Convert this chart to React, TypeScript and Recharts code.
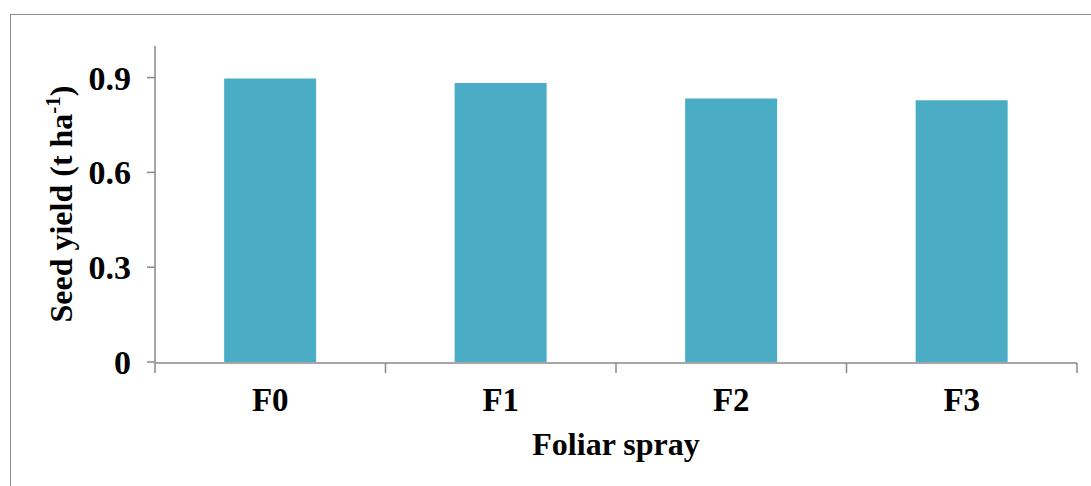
import { BarChart, Bar, XAxis, YAxis, Label } from "recharts";

const categories = ["F0", "F1", "F2", "F3"];
const seedYield = [0.897, 0.883, 0.834, 0.828];
const yTicks = [0, 0.3, 0.6, 0.9];
const boundaryTicks = [0, 1, 2, 3, 4];

const data = categories.map((name, i) => ({ name, pos: i + 0.5, value: seedYield[i] }));

const axisColor = "#888888";
const font = "'Liberation Serif', 'Times New Roman', serif";

function YTitle({ viewBox }: any) {
  const cy = viewBox.y + viewBox.height / 2;
  const x = 72;
  return (
    <text
      x={x}
      y={cy}
      transform={`rotate(-90, ${x}, ${cy})`}
      textAnchor="middle"
      fontFamily={font}
      fontWeight="bold"
      fontSize={32}
      fill="#000"
    >
      Seed yield (t ha
      <tspan fontSize={21} dy={-12}>-1</tspan>
      <tspan dy={12}>)</tspan>
    </text>
  );
}

export default function App() {
  return (
    <div style={{ position: "absolute", left: 0, top: 0, width: 1091, height: 486, background: "#fff", overflow: "hidden" }}>
      <div
        style={{
          position: "absolute",
          left: 10,
          top: 14,
          width: 1200,
          height: 600,
          borderTop: "1.5px solid #8c8c8c",
          borderLeft: "1.5px solid #8c8c8c",
        }}
      />
      <div style={{ position: "absolute", left: 0, top: 0 }}>
        <BarChart
          width={1091}
          height={486}
          data={data}
          margin={{ top: 46, right: 14, bottom: 122, left: 55 }}
          barCategoryGap="30%"
        >
          <XAxis
            xAxisId="edge"
            dataKey="pos"
            type="number"
            domain={[0, 4]}
            ticks={boundaryTicks}
            tick={() => <g />}
            tickSize={10}
            axisLine={{ stroke: axisColor, strokeWidth: 1.5 }}
            tickLine={{ stroke: axisColor, strokeWidth: 1.5 }}
            height={1}
          >
            <Label
              value="Foliar spray"
              content={({ viewBox }: any) => (
                <text
                  x={viewBox.x + viewBox.width / 2}
                  y={455}
                  textAnchor="middle"
                  fontFamily={font}
                  fontWeight="bold"
                  fontSize={32}
                  fill="#000"
                >
                  Foliar spray
                </text>
              )}
            />
          </XAxis>
          <XAxis
            dataKey="name"
            xAxisId="cat"
            axisLine={false}
            tickLine={false}
            tickSize={0}
            tickMargin={26}
            height={1}
            tick={{ fontFamily: font, fontWeight: "bold", fontSize: 33, fill: "#000" }}
          />
          <YAxis
            width={100}
            domain={[0, 1]}
            ticks={yTicks}
            tickFormatter={(v) => String(v)}
            tickSize={8}
            tickMargin={16}
            axisLine={{ stroke: axisColor, strokeWidth: 1.5 }}
            tickLine={{ stroke: axisColor, strokeWidth: 1.5 }}
            tick={{ fontFamily: font, fontWeight: "bold", fontSize: 34, fill: "#000" }}
          >
            <Label content={YTitle} />
          </YAxis>
          <Bar dataKey="value" xAxisId="cat" fill="#4bacc6" isAnimationActive={false} />
        </BarChart>
      </div>
    </div>
  );
}
